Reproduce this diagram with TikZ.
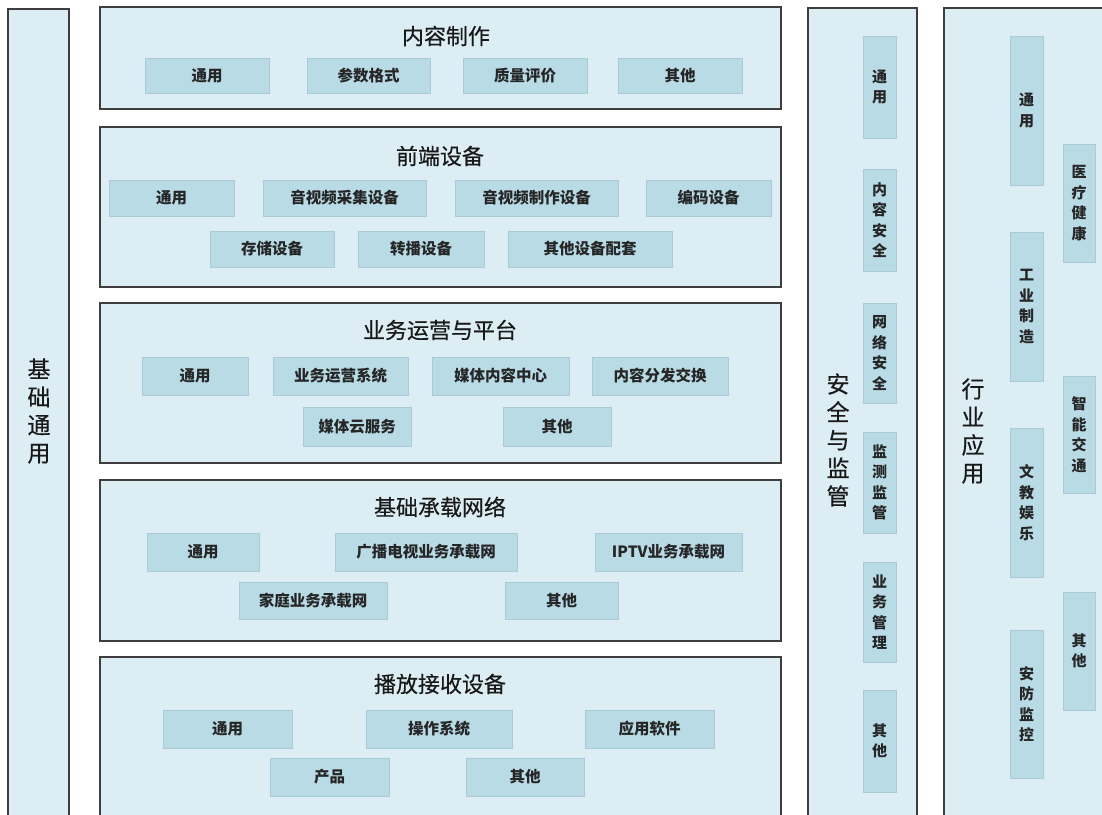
\documentclass[tikz,border=0pt]{standalone}
\usepackage{fontspec}
\setmainfont{Noto Sans CJK SC}
\newfontfamily\titlefont{Noto Sans CJK SC}[FakeBold=0.4]
\definecolor{panelfill}{RGB}{220,237,244}
\definecolor{subfill}{RGB}{184,219,230}
\definecolor{subdraw}{RGB}{170,202,214}
\definecolor{paneldraw}{RGB}{62,62,62}
\tikzset{
  panel/.style={draw=paneldraw, line width=1.5pt, fill=panelfill, inner sep=0pt},
  sub/.style={draw=subdraw, line width=0.6pt, fill=subfill, inner sep=0pt, text=black!85, font=\fontsize{15.5}{18}\selectfont\bfseries},
  vsub/.style={sub, align=center, font=\fontsize{15}{20.5}\selectfont\bfseries},
  ptitle/.style={inner sep=0pt, text=black!90, font=\titlefont\fontsize{22}{26}\selectfont},
  vtitle/.style={inner sep=0pt, align=center, text=black!90, font=\titlefont\fontsize{23}{28}\selectfont},
}
% style, name, x1, y1, x2, y2, text
\newcommand\mybox[7]{\node[#1, minimum width={(#5-#3)*1pt}, minimum height={(#6-#4)*1pt}] (#2) at ({(#3+#5)/2},{(#4+#6)/2}) {#7};}
\begin{document}
\begin{tikzpicture}[x=1pt,y=-1pt]
\useasboundingbox (0,0) rectangle (1102,814);
\fill[white] (0,0) rectangle (1102,814);
\clip (0,0) rectangle (1102,814);
% left panel
\mybox{panel}{jc}{8}{9}{69}{840}{}
\node[vtitle] (jct) at (39,411) {基\\础\\通\\用};
% 内容制作
\mybox{panel}{p1}{100}{7}{781}{109}{}
\node[ptitle] (p1t) at (446,36) {内容制作};
\mybox{sub}{p1a}{145}{58}{269}{93}{通用}
\mybox{sub}{p1b}{307}{58}{430}{93}{参数格式}
\mybox{sub}{p1c}{463}{58}{587}{93}{质量评价}
\mybox{sub}{p1d}{618}{58}{742}{93}{其他}
% 前端设备
\mybox{panel}{p2}{100}{127}{781}{287}{}
\node[ptitle] (p2t) at (440,156) {前端设备};
\mybox{sub}{p2a}{109}{180}{234}{216}{通用}
\mybox{sub}{p2b}{263}{180}{426}{216}{音视频采集设备}
\mybox{sub}{p2c}{455}{180}{618}{216}{音视频制作设备}
\mybox{sub}{p2d}{646}{180}{771}{216}{编码设备}
\mybox{sub}{p2e}{210}{231}{334}{267}{存储设备}
\mybox{sub}{p2f}{358}{231}{484}{267}{转播设备}
\mybox{sub}{p2g}{508}{231}{672}{267}{其他设备配套}
% 业务运营与平台
\mybox{panel}{p3}{100}{303}{781}{463}{}
\node[ptitle] (p3t) at (440,330) {业务运营与平台};
\mybox{sub}{p3a}{142}{357}{248}{395}{通用}
\mybox{sub}{p3b}{273}{357}{408}{395}{业务运营系统}
\mybox{sub}{p3c}{432}{357}{569}{395}{媒体内容中心}
\mybox{sub}{p3d}{592}{357}{728}{395}{内容分发交换}
\mybox{sub}{p3e}{303}{407}{411}{446}{媒体云服务}
\mybox{sub}{p3f}{503}{407}{611}{446}{其他}
% 基础承载网络
\mybox{panel}{p4}{100}{480}{781}{641}{}
\node[ptitle] (p4t) at (440,507) {基础承载网络};
\mybox{sub}{p4a}{147}{533}{259}{571}{通用}
\mybox{sub}{p4b}{335}{533}{517}{571}{广播电视业务承载网}
\mybox{sub}{p4c}{595}{533}{742}{571}{IPTV业务承载网}
\mybox{sub}{p4d}{239}{582}{387}{619}{家庭业务承载网}
\mybox{sub}{p4e}{505}{582}{618}{619}{其他}
% 播放接收设备
\mybox{panel}{p5}{100}{657}{781}{840}{}
\node[ptitle] (p5t) at (440,684) {播放接收设备};
\mybox{sub}{p5a}{163}{710}{292}{748}{通用}
\mybox{sub}{p5b}{366}{710}{512}{748}{操作系统}
\mybox{sub}{p5c}{585}{710}{714}{748}{应用软件}
\mybox{sub}{p5d}{270}{758}{389}{796}{产品}
\mybox{sub}{p5e}{466}{758}{584}{796}{其他}
% 安全与监管
\mybox{panel}{aq}{808}{8}{917}{840}{}
\node[vtitle] (aqt) at (838,440) {安\\全\\与\\监\\管};
\mybox{vsub}{aqa}{863}{36}{896}{138}{通\\用}
\mybox{vsub}{aqb}{863}{169}{896}{271}{内\\容\\安\\全}
\mybox{vsub}{aqc}{863}{303}{896}{403}{网\\络\\安\\全}
\mybox{vsub}{aqd}{863}{432}{896}{533}{监\\测\\监\\管}
\mybox{vsub}{aqe}{863}{562}{896}{662}{业\\务\\管\\理}
\mybox{vsub}{aqf}{863}{690}{896}{792}{其\\他}
% 行业应用
\mybox{panel}{hy}{944}{8}{1130}{840}{}
\node[vtitle] (hyt) at (973,431) {行\\业\\应\\用};
\mybox{vsub}{hya}{1010}{36}{1043}{185}{通\\用}
\mybox{vsub}{hyb}{1010}{232}{1043}{381}{工\\业\\制\\造}
\mybox{vsub}{hyc}{1010}{428}{1043}{577}{文\\教\\娱\\乐}
\mybox{vsub}{hyd}{1010}{630}{1043}{778}{安\\防\\监\\控}
\mybox{vsub}{hye}{1063}{144}{1095}{262}{医\\疗\\健\\康}
\mybox{vsub}{hyf}{1063}{376}{1095}{493}{智\\能\\交\\通}
\mybox{vsub}{hyg}{1063}{592}{1095}{710}{其\\他}
\end{tikzpicture}
\end{document}
